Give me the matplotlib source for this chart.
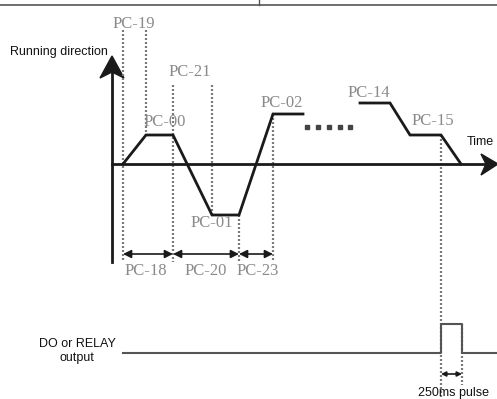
import matplotlib
matplotlib.use('Agg')
import matplotlib.pyplot as plt
from matplotlib.patches import Polygon

# speed profile (pixel coords of the sketch, y grows downward)
profile_x = [123, 146, 173, 212, 239, 273, 303]
profile_y = [164, 135, 135, 215, 215, 114, 114]
tail_x = [360, 390, 410, 441, 461]
tail_y = [103, 103, 135, 135, 164]
dots_x = [307, 318, 329, 340, 350]
dots_y = [127, 127, 127, 127, 127]

# dotted guide lines: x, y_top, y_bottom
guide_x = [123, 146, 173, 212, 239, 273, 441, 462]
guide_top = [30, 30, 85, 85, 215, 114, 135, 324]
guide_bot = [262, 135, 262, 215, 262, 262, 399, 385]

# interval arrows: x_start, x_end, y
span_x0 = [123, 173, 239, 441]
span_x1 = [173, 239, 273, 462]
span_y = [254, 254, 254, 374]

# parameter labels
pc_labels = ['PC-19', 'PC-21', 'PC-00', 'PC-01', 'PC-02', 'PC-14', 'PC-15',
             'PC-18', 'PC-20', 'PC-23']
pc_x = [134, 190, 165, 212, 282, 369, 433, 146, 206, 258]
pc_y = [24, 72, 122, 223, 103, 93, 121, 271, 271, 271]

# relay output signal
relay_x = [123, 441, 441, 462, 462, 497]
relay_y = [353, 353, 324, 324, 353, 353]

W, H = 497, 399
fig = plt.figure(figsize=(W / 100, H / 100), dpi=100)
ax = fig.add_axes([0, 0, 1, 1])
ax.set_xlim(0, W)
ax.set_ylim(H, 0)
ax.axis('off')

# frame remnant at the top
ax.plot([0, W], [5, 5], color='#555555', lw=1.2)
ax.plot([259, 259], [0, 5], color='#555555', lw=1.0)

grey = '#8a8a8a'
for x, t, b in zip(guide_x, guide_top, guide_bot):
    ax.plot([x, x], [t, b], color='#7a7a7a', lw=1.6, ls=(0, (0.9, 0.9)))

# axes with arrow heads
ax.plot([112, 112], [262, 72], color='#1a1a1a', lw=2.0)
ax.add_patch(Polygon([(112, 56), (100, 78), (112, 72), (124, 78)],
                     closed=True, color='#1a1a1a'))
ax.plot([112, 485], [164, 164], color='#1a1a1a', lw=2.0)
ax.add_patch(Polygon([(498, 164), (481, 154), (486, 164), (481, 175)],
                     closed=True, color='#1a1a1a'))

ax.plot(profile_x, profile_y, color='#1a1a1a', lw=2.0, solid_joinstyle='miter')
ax.plot(tail_x, tail_y, color='#1a1a1a', lw=2.0, solid_joinstyle='miter')
ax.plot(dots_x, dots_y, ls='none', marker='s', ms=2.2, color='#444444')

for x0, x1, y in zip(span_x0, span_x1, span_y):
    ms = 12 if y < 300 else 7
    ax.annotate('', xy=(x1, y), xytext=(x0, y),
                arrowprops=dict(arrowstyle='<|-|>', color='#1a1a1a', lw=1.2,
                                mutation_scale=ms, shrinkA=0, shrinkB=0))

for s, x, y in zip(pc_labels, pc_x, pc_y):
    ax.text(x, y, s, ha='center', va='center', color=grey,
            fontsize=12, family='Liberation Serif')

ax.plot(relay_x, relay_y, color='#555555', lw=1.5)

ax.text(108, 52, 'Running direction', ha='right', va='center',
        fontsize=9, family='Liberation Sans', color='#111111')
ax.text(480, 142, 'Time', ha='center', va='center',
        fontsize=9, family='Liberation Sans', color='#111111')
ax.text(77, 351, 'DO or RELAY\noutput', ha='center', va='center',
        fontsize=9, family='Liberation Sans', color='#111111', linespacing=1.25)
ax.text(453, 393, '250ms pulse', ha='center', va='center',
        fontsize=9, family='Liberation Sans', color='#111111')

fig.savefig('out.png', dpi=100)
